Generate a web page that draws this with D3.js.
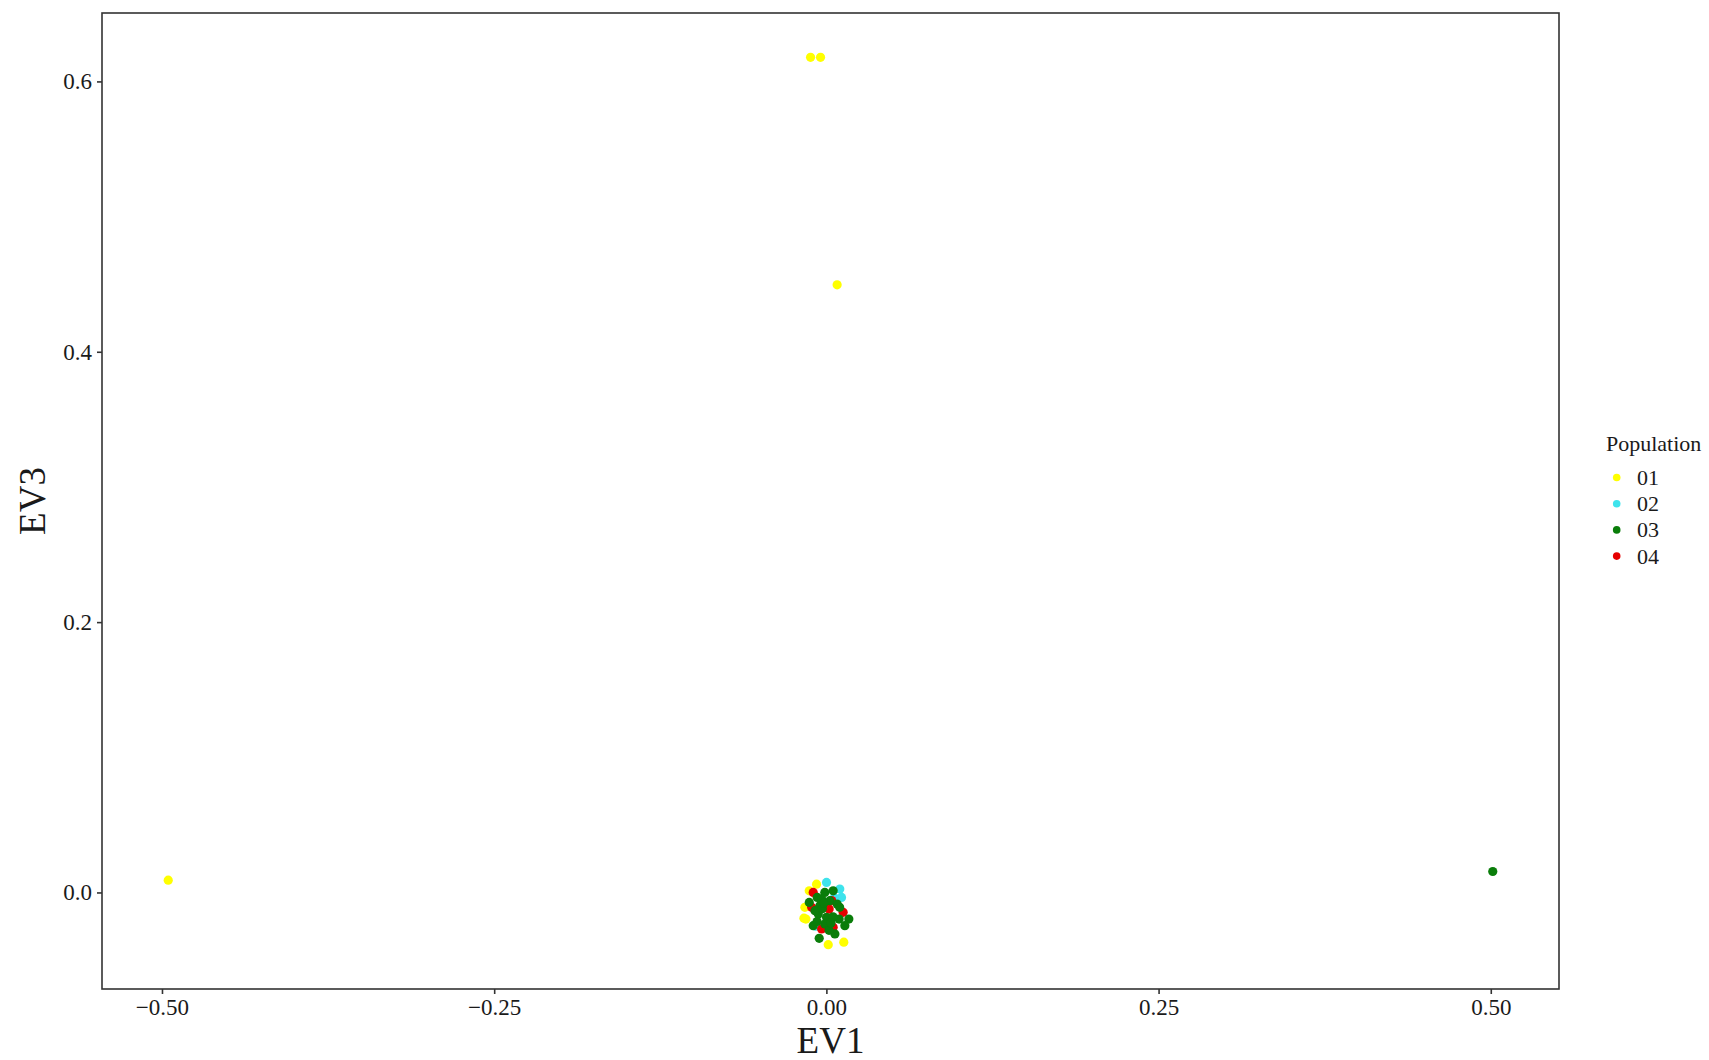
<!DOCTYPE html>
<html>
<head>
<meta charset="utf-8">
<script src="https://cdn.jsdelivr.net/npm/d3@7"></script>
<style>
  html, body { margin: 0; padding: 0; background: #ffffff; }
  svg { display: block; }
  text { font-family: "Liberation Serif", "DejaVu Serif", serif; fill: #1a1a1a; }
</style>
</head>
<body>
<svg id="chart" width="1709" height="1060"></svg>
<script>
// Population labels and colours
const populations = ["01", "02", "03", "04"];
const popColors = ["#ffff00", "#3ee3ec", "#0a7d0a", "#e60000"];

// Eigenvector scores per population: [EV1, EV3]
const pop01 = [
  [-0.4953, 0.0091], [-0.0119, 0.6178], [-0.0044, 0.6178], [0.0081, 0.4495],
  [-0.0074, 0.0061], [-0.0129, 0.0012], [-0.0162, -0.0110], [-0.0154, -0.0197],
  [-0.0169, -0.0190], [0.0014, -0.0386], [0.0131, -0.0368]
];
const pop02 = [
  [0.0001, 0.0074], [0.0101, 0.0025], [0.0114, -0.0037], [-0.0080, -0.0250],
  [0.0060, -0.0040]
];
const pop03 = [
  [0.5015, 0.0155],
  [-0.0129, -0.0074], [-0.0069, -0.0037], [-0.0012, 0.0000], [0.0051, 0.0012],
  [-0.0049, -0.0098], [0.0026, -0.0061], [0.0081, -0.0086], [-0.0061, -0.0160],
  [0.0001, -0.0184], [0.0096, -0.0197], [0.0169, -0.0197], [0.0139, -0.0246],
  [-0.0099, -0.0246], [0.0064, -0.0307], [-0.0054, -0.0339], [-0.0012, -0.0233],
  [-0.0036, -0.0049], [-0.0086, -0.0135], [-0.0030, -0.0120], [-0.0020, -0.0080],
  [0.0050, -0.0180], [-0.0070, -0.0215], [0.0020, -0.0280], [0.0100, -0.0110],
  [0.0035, -0.0225]
];
const pop04 = [
  [-0.0099, 0.0000], [0.0021, -0.0123], [0.0126, -0.0147], [0.0051, -0.0258],
  [-0.0036, -0.0270], [-0.0111, -0.0110], [0.0040, -0.0060]
];

// Drawing order of the groups (later groups sit on top)
const drawOrder = [0, 1, 3, 2];
const seriesData = [pop01, pop02, pop03, pop04];

const xTicks = [-0.50, -0.25, 0.00, 0.25, 0.50];
const yTicks = [0.0, 0.2, 0.4, 0.6];

const svg = d3.select("#chart");
const panel = { left: 102, top: 13, right: 1559, bottom: 989 };

// Domains padded by 5% of the data range on each side
const allPts = seriesData.flat();
const xExt = d3.extent(allPts, d => d[0]);
const yExt = d3.extent(allPts, d => d[1]);
const xPad = (xExt[1] - xExt[0]) * 0.05;
const yPad = (yExt[1] - yExt[0]) * 0.05;

const x = d3.scaleLinear()
  .domain([xExt[0] - xPad, xExt[1] + xPad])
  .range([panel.left, panel.right]);
const y = d3.scaleLinear()
  .domain([yExt[0] - yPad, yExt[1] + yPad])
  .range([panel.bottom, panel.top]);

// Points
const gPts = svg.append("g");
drawOrder.forEach(i => {
  gPts.selectAll(null)
    .data(seriesData[i])
    .enter().append("circle")
    .attr("cx", d => x(d[0]))
    .attr("cy", d => y(d[1]))
    .attr("r", 4.6)
    .attr("fill", popColors[i]);
});

// Panel border
svg.append("rect")
  .attr("x", panel.left).attr("y", panel.top)
  .attr("width", panel.right - panel.left)
  .attr("height", panel.bottom - panel.top)
  .attr("fill", "none")
  .attr("stroke", "#333333")
  .attr("stroke-width", 1.6);

// Axes
const xAxis = d3.axisBottom(x)
  .tickValues(xTicks)
  .tickFormat(d => d3.format(".2f")(d).replace("-", "\u2212"))
  .tickSize(5).tickPadding(5);
const yAxis = d3.axisLeft(y)
  .tickValues(yTicks)
  .tickFormat(d3.format(".1f"))
  .tickSize(5).tickPadding(5);

const gx = svg.append("g")
  .attr("transform", `translate(0,${panel.bottom})`)
  .call(xAxis);
const gy = svg.append("g")
  .attr("transform", `translate(${panel.left},0)`)
  .call(yAxis);

[gx, gy].forEach(g => {
  g.select(".domain").remove();
  g.selectAll(".tick line").attr("stroke", "#333333").attr("stroke-width", 1.6);
  g.selectAll(".tick text")
    .attr("font-family", "Liberation Serif, serif")
    .attr("font-size", 23)
    .attr("fill", "#1a1a1a");
});

// Axis titles
svg.append("text")
  .attr("x", (panel.left + panel.right) / 2)
  .attr("y", 1053)
  .attr("text-anchor", "middle")
  .attr("font-size", 37)
  .text("EV1");

svg.append("text")
  .attr("transform", `translate(45,${(panel.top + panel.bottom) / 2}) rotate(-90)`)
  .attr("text-anchor", "middle")
  .attr("font-size", 37)
  .text("EV3");

// Legend
const legend = svg.append("g").attr("transform", "translate(1606,451)");
legend.append("text")
  .attr("x", 0).attr("y", 0)
  .attr("font-size", 22)
  .text("Population");

const items = legend.selectAll("g.item")
  .data(populations)
  .enter().append("g")
  .attr("class", "item")
  .attr("transform", (d, i) => `translate(0,${26.5 + i * 26.2})`);
items.append("circle")
  .attr("cx", 10.7).attr("cy", 0)
  .attr("r", 3.8)
  .attr("fill", (d, i) => popColors[i]);
items.append("text")
  .attr("x", 31).attr("y", 7.5)
  .attr("font-size", 22)
  .text(d => d);
</script>
</body>
</html>
